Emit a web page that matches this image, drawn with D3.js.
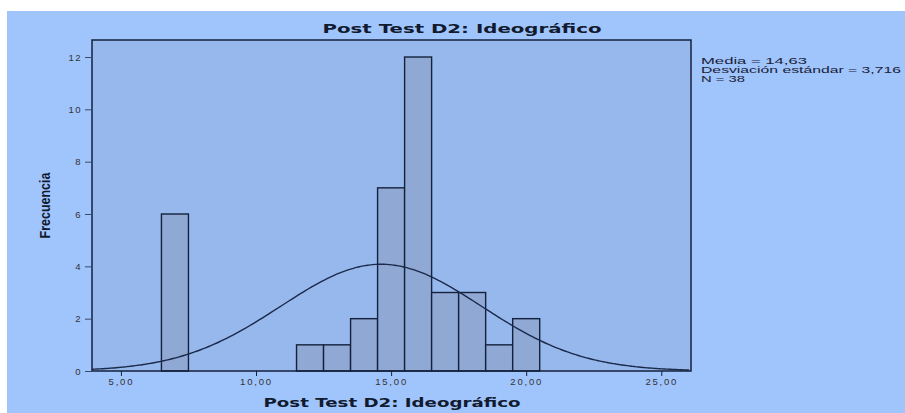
<!DOCTYPE html>
<html>
<head>
<meta charset="utf-8">
<script src="https://cdn.jsdelivr.net/npm/d3@7"></script>
<style>
  body { margin: 0; background: #ffffff; }
  svg { display: block; }
</style>
</head>
<body>
<script>
// histogram data
var binCenters = [7, 12, 13, 14, 15, 16, 17, 18, 19, 20];
var counts = [6, 1, 1, 2, 7, 12, 3, 3, 1, 2];
var binWidth = 1;
var xTicks = [5, 10, 15, 20, 25];
var yTicks = [0, 2, 4, 6, 8, 10, 12];
var statLines = ["Media = 14,63", "Desviación estándar = 3,716", "N = 38"];
var media = 14.63, desv = 3.716, n = 38;

var W = 905, H = 413;
var plot = {left: 92, right: 691, top: 40, bottom: 371};

var svg = d3.select("body").append("svg")
    .attr("width", W)
    .attr("height", H);

// outer light blue panel (white strip on top and left)
svg.append("rect")
    .attr("x", 7).attr("y", 11)
    .attr("width", W - 7).attr("height", H - 11)
    .attr("fill", "#a0c4fc");

var xScale = d3.scaleLinear()
    .domain([3.93, 26.1])
    .range([plot.left, plot.right]);

var yScale = d3.scaleLinear()
    .domain([0, 12.65])
    .range([plot.bottom, plot.top]);

// plot area
svg.append("rect")
    .attr("x", plot.left).attr("y", plot.top)
    .attr("width", plot.right - plot.left)
    .attr("height", plot.bottom - plot.top)
    .attr("fill", "#97b8ec");

// bars
var bins = binCenters.map(function (c, i) { return {c: c, n: counts[i]}; });
svg.selectAll(".bar")
    .data(bins)
    .enter().append("rect")
    .attr("class", "bar")
    .attr("x", function (d) { return xScale(d.c - binWidth / 2); })
    .attr("y", function (d) { return yScale(d.n); })
    .attr("width", function (d) { return xScale(d.c + binWidth / 2) - xScale(d.c - binWidth / 2); })
    .attr("height", function (d) { return yScale(0) - yScale(d.n); })
    .attr("fill", "#8fa8d4")
    .attr("stroke", "#14213d")
    .attr("stroke-width", 1.4);

// normal curve from the stats
var pts = d3.range(xScale.domain()[0], xScale.domain()[1] + 0.001, 0.1).map(function (v) {
  var z = (v - media) / desv;
  return [v, n * binWidth * Math.exp(-0.5 * z * z) / (desv * Math.sqrt(2 * Math.PI))];
});
var line = d3.line()
    .x(function (d) { return xScale(d[0]); })
    .y(function (d) { return yScale(d[1]); })
    .curve(d3.curveBasis);
svg.append("path")
    .datum(pts)
    .attr("d", line)
    .attr("fill", "none")
    .attr("stroke", "#1b2a4a")
    .attr("stroke-width", 1.4);

// frame
svg.append("rect")
    .attr("x", plot.left).attr("y", plot.top)
    .attr("width", plot.right - plot.left)
    .attr("height", plot.bottom - plot.top)
    .attr("fill", "none")
    .attr("stroke", "#14213d")
    .attr("stroke-width", 1.5);

var fmt = function (v) { return d3.format(".2f")(v).replace(".", ","); };

// x axis
var xAxis = svg.append("g")
    .attr("transform", "translate(0," + plot.bottom + ")")
    .call(d3.axisBottom(xScale).tickValues(xTicks).tickFormat(fmt).tickSize(5).tickPadding(2));
xAxis.select(".domain").remove();
xAxis.selectAll("line").attr("stroke", "#14213d");
xAxis.selectAll("text")
    .attr("fill", "#333")
    .style("font-family", "Liberation Sans, Arial, sans-serif")
    .style("font-size", "9.5px")
    .style("letter-spacing", "1.8px");

// y axis
var yAxis = svg.append("g")
    .attr("transform", "translate(" + plot.left + ",0)")
    .call(d3.axisLeft(yScale).tickValues(yTicks).tickSize(7).tickPadding(3));
yAxis.select(".domain").remove();
yAxis.selectAll("line").attr("stroke", "#3a4a6a");
yAxis.selectAll("text")
    .attr("fill", "#333")
    .style("font-family", "Liberation Sans, Arial, sans-serif")
    .style("font-size", "9.5px")
    .style("letter-spacing", "1.5px");

// title
svg.append("text")
    .attr("x", 462)
    .attr("y", 33)
    .attr("text-anchor", "middle")
    .attr("textLength", 279)
    .attr("lengthAdjust", "spacingAndGlyphs")
    .style("font-family", "DejaVu Sans, sans-serif")
    .style("font-weight", "bold")
    .style("font-size", "12.5px")
    .attr("fill", "#111a2e")
    .text("Post Test D2: Ideográfico");

// x label
svg.append("text")
    .attr("x", 392)
    .attr("y", 407)
    .attr("text-anchor", "middle")
    .attr("textLength", 257)
    .attr("lengthAdjust", "spacingAndGlyphs")
    .style("font-family", "DejaVu Sans, sans-serif")
    .style("font-weight", "bold")
    .style("font-size", "12.5px")
    .attr("fill", "#111a2e")
    .text("Post Test D2: Ideográfico");

// y label
svg.append("text")
    .attr("transform", "translate(50," + ((plot.top + plot.bottom) / 2) + ") rotate(-90)")
    .attr("text-anchor", "middle")
    .attr("textLength", 66)
    .attr("lengthAdjust", "spacingAndGlyphs")
    .style("font-family", "Liberation Sans Narrow, Liberation Sans, sans-serif")
    .style("font-weight", "bold")
    .style("font-size", "15px")
    .attr("fill", "#111a2e")
    .text("Frecuencia");

// stats box text
var statWidths = [106, 200, 44];
svg.selectAll(".stat")
    .data(statLines)
    .enter().append("text")
    .attr("class", "stat")
    .attr("x", 701)
    .attr("y", function (d, i) { return 63.5 + i * 9.4; })
    .attr("textLength", function (d, i) { return statWidths[i]; })
    .attr("lengthAdjust", "spacingAndGlyphs")
    .style("font-family", "Liberation Sans, Arial, sans-serif")
    .style("font-size", "9px")
    .attr("fill", "#1a2238")
    .text(function (d) { return d; });
</script>
</body>
</html>
